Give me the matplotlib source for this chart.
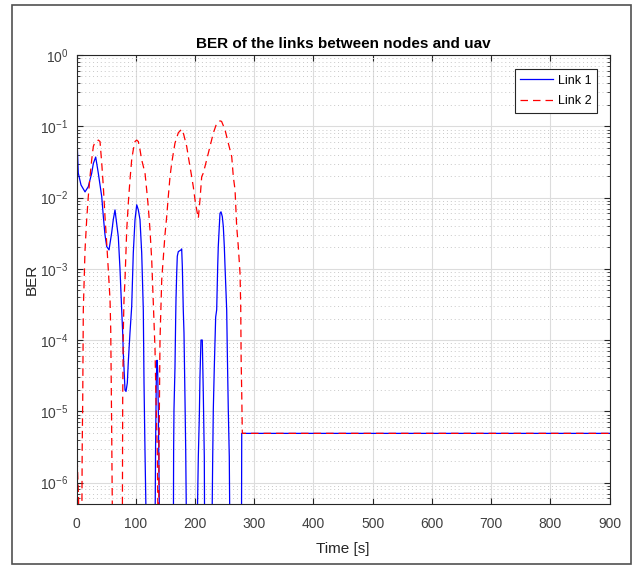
import matplotlib
matplotlib.use("Agg")
import matplotlib.pyplot as plt
from matplotlib.patches import Rectangle
from matplotlib.ticker import LogLocator, NullFormatter, MultipleLocator

plt.rcParams['font.family'] = ['Liberation Sans', 'DejaVu Sans']
plt.rcParams['mathtext.fontset'] = 'custom'
plt.rcParams['mathtext.rm'] = 'Liberation Sans'
plt.rcParams['mathtext.it'] = 'Liberation Sans'
plt.rcParams['mathtext.default'] = 'regular'

# values; 1e-7 stands for "below the axis"
t1 = [0, 1.5, 3, 7.6, 14.4, 19.9, 25.7, 28.4, 32.4, 36.8, 42.6, 45.3, 48.1, 51,
      54.9, 59.4, 62.1, 65, 70.6, 73.5, 76.3, 78, 79, 81.9, 83.6, 85.8, 87.5,
      90.3, 93.2, 95.9, 98.8, 101.7, 104.4, 107.2, 110.1, 112.8, 114, 115.7, 118.5,
      132.4, 133.5, 134.8, 136, 137, 138.2, 139.5, 140.5,
      163.5, 164, 164.6, 166.3, 167.5, 168, 169.2, 170.2, 171.9, 176.5, 177.6,
      178.7, 180.3, 181.5, 183.2, 184.4, 186.1,
      203, 205.7, 207.4, 208.5, 210.2, 212.4, 214.1, 215.8, 216.5,
      228.3, 230, 231, 232.7, 235, 236.7, 238.4, 239.4, 241.1, 242.3, 244, 246.2,
      247.9, 249.6, 250.8, 253.6, 254.6, 256.3, 258, 259.2,
      278.5, 279, 900]
ber1 = [5.2e-2, 4.8e-2, 2.2e-2, 1.5e-2, 1.2e-2, 1.42e-2, 2.2e-2, 3.0e-2, 3.7e-2,
        2.2e-2, 1.03e-2, 5.4e-3, 3.0e-3, 2.05e-3, 1.84e-3, 3.2e-3, 4.9e-3, 6.7e-3,
        2.8e-3, 9.7e-4, 2.65e-4, 1.26e-4, 6.6e-5, 2.0e-5, 1.9e-5, 2.5e-5, 5.0e-5,
        1.26e-4, 2.95e-4, 1.67e-3, 4.9e-3, 7.9e-3, 6.7e-3, 4.9e-3, 1.67e-3, 2.65e-4,
        2.5e-5, 2.6e-6, 1e-7,
        1e-7, 3e-6, 3e-5, 5.2e-5, 4e-5, 1e-5, 1e-6, 1e-7,
        1e-7, 2.9e-6, 1.05e-5, 4.2e-5, 2.1e-4, 3.7e-4, 8.7e-4, 1.5e-3, 1.74e-3,
        1.84e-3, 1.9e-3, 1.07e-3, 2.65e-4, 1.26e-4, 1.45e-5, 2.9e-6, 1e-7,
        1e-7, 2.3e-6, 8.5e-6, 3.1e-5, 1e-4, 1e-4, 1.8e-5, 2.3e-6, 1e-7,
        1e-7, 2.3e-6, 1.05e-5, 4.2e-5, 2.1e-4, 2.65e-4, 1.07e-3, 2.05e-3, 3.9e-3,
        6.0e-3, 6.3e-3, 5.4e-3, 3.9e-3, 2.05e-3, 1.07e-3, 2.65e-4, 7.3e-5, 1.05e-5,
        2.3e-6, 1e-7,
        1e-7, 4.9e-6, 4.9e-6]

t2 = [0, 1.5, 2.5, 3.5, 4.2,
      8.8, 9.6, 10.5, 11.5, 14.4, 17.2, 19.9, 22.8, 25.7, 28.4, 31.2, 34.1, 36.8,
      39.7, 42.6, 45.3, 48.1, 51, 53.7, 56.6, 57.8, 59.4, 61.1,
      77.3, 78, 79, 80.2, 81.9, 84.8, 87.5, 90.3, 93.2, 95.9, 98.8, 101.7, 104.4,
      107.2, 110, 115.7, 118.5, 121.2, 124.1, 127, 129.7, 132.6, 134.2, 136.4, 138.1,
      138.5, 139.3, 141, 143.9, 149.4, 152.3, 155, 157.9, 160.8, 163.5, 166.3,
      171.9, 177.6, 180.3, 186.1, 188.8, 191.7, 194.5, 197.2, 200.1, 203, 205.7,
      208.5, 211.4, 214.1, 219.9, 225.4, 231, 236.7, 242.3, 245, 250.8, 256.3,
      262.1, 264.8, 267.7, 270.5, 273.2, 276.1, 277.3, 278, 279, 280, 900]
ber2 = [2.1e-6, 1.8e-6, 1e-6, 6e-7, 1e-7,
        1e-7, 2.9e-6, 1.45e-5, 2.65e-4, 1.84e-3, 4.9e-3, 1.03e-2, 1.96e-2, 3.4e-2,
        5.2e-2, 6.0e-2, 6.1e-2, 6.4e-2, 6.1e-2, 3.05e-2, 1.42e-2, 5.4e-3, 2.3e-3,
        9.7e-4, 3.7e-4, 1.4e-4, 5.5e-6, 1e-7,
        1e-7, 1.45e-5, 1.26e-4, 3.7e-4, 7e-4, 3.5e-3, 8.4e-3, 1.77e-2, 3.4e-2,
        4.7e-2, 6.1e-2, 6.4e-2, 6.1e-2, 4.7e-2, 3.4e-2, 2.2e-2, 1.28e-2, 7.4e-3,
        3.5e-3, 1.33e-3, 3.3e-4, 7.3e-5, 1.45e-5, 2.9e-6, 1e-7,
        1e-7, 2.9e-6, 1e-4, 7e-4, 3e-3, 5.4e-3, 1.03e-2, 1.96e-2, 3.05e-2, 4.2e-2,
        5.8e-2, 8.1e-2, 9.1e-2, 8.1e-2, 5.2e-2, 3.75e-2, 2.7e-2, 1.96e-2, 1.42e-2,
        9.3e-3, 6.7e-3, 5.1e-3, 9.3e-3, 1.96e-2, 2.2e-2, 3.4e-2, 5.2e-2, 8.0e-2,
        0.110, 0.119, 0.117, 8.9e-2, 5.8e-2, 3.75e-2, 1.96e-2, 1.28e-2, 3.9e-3,
        2.05e-3, 8.7e-4, 2.95e-4, 5.3e-5, 1.8e-5, 4.9e-6, 4.9e-6]

yticks = [1e-6, 1e-5, 1e-4, 1e-3, 1e-2, 1e-1, 1]
ytick_labels = ['$10^{-6}$', '$10^{-5}$', '$10^{-4}$', '$10^{-3}$', '$10^{-2}$', '$10^{-1}$', '$10^{0}$']

fig = plt.figure(figsize=(6.39, 5.67), dpi=100)
fig.patches.append(Rectangle((12 / 639, 1 - 564 / 567), 619 / 639, 559 / 567,
                             transform=fig.transFigure, fill=False,
                             edgecolor='#505050', linewidth=1.2))
ax = fig.add_axes([76.5 / 639, 1 - 504 / 567, 533 / 639, 449 / 567])

ax.semilogy(t1, ber1, color='#0000ff', linewidth=0.9, label='Link 1')
ax.semilogy(t2, ber2, color='#ff0000', linewidth=0.9, dashes=(6, 4), label='Link 2')

ax.set_xlim(0, 900)
ax.set_ylim(5e-7, 1)
ax.xaxis.set_major_locator(MultipleLocator(100))
ax.set_yticks(yticks)
ax.set_yticklabels(ytick_labels)
ax.yaxis.set_minor_locator(LogLocator(base=10, subs=range(2, 10), numticks=20))
ax.yaxis.set_minor_formatter(NullFormatter())

ax.grid(True, which='major', color='#dcdcdc', linewidth=0.8)
ax.grid(True, which='minor', axis='y', color='#c8c8c8', linestyle=(0, (1, 3)), linewidth=0.7)
ax.set_axisbelow(True)

ax.tick_params(which='both', direction='in', top=True, right=True,
               colors='#262626', labelcolor='#404040', labelsize=10)
ax.tick_params(which='major', length=4)
ax.tick_params(which='minor', length=2.5)
ax.tick_params(axis='x', pad=9)
ax.tick_params(axis='y', pad=6)
for s in ax.spines.values():
    s.set_color('#262626')
    s.set_linewidth(0.8)

ax.set_title('BER of the links between nodes and uav', fontsize=11, fontweight='bold', pad=5)
ax.set_xlabel('Time [s]', fontsize=11, color='#262626', labelpad=8)
ax.set_ylabel('BER', fontsize=11, color='#262626', labelpad=1)

leg = ax.legend(loc='upper right', bbox_to_anchor=(0.9765, 0.9688), borderaxespad=0,
                fontsize=9, fancybox=False, framealpha=1, edgecolor='#262626',
                handlelength=2.6, handletextpad=0.4, borderpad=0.45, labelspacing=0.7)
leg.get_frame().set_linewidth(0.8)

fig.savefig('out.png', dpi=100)
